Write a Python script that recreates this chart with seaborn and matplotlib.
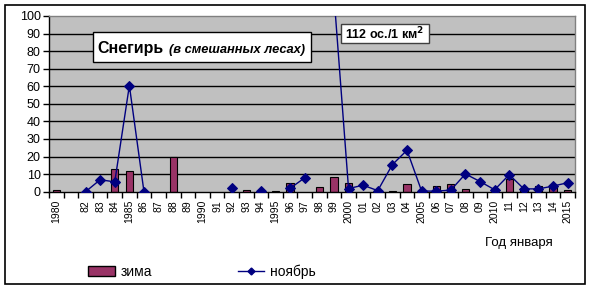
import numpy as np
import pandas as pd
import matplotlib
matplotlib.use("Agg")
import matplotlib.pyplot as plt
import seaborn as sns
from matplotlib.patches import Rectangle, Patch
from matplotlib.lines import Line2D

# ---- data ----
years = ['1980', '', '82', '83', '84', '1985', '86', '87', '88', '89', '1990', '91',
         '92', '93', '94', '1995', '96', '97', '98', '99', '2000', '01', '02', '03',
         '04', '2005', '06', '07', '08', '09', '2010', '11', '12', '13', '14', '2015']
zima = [1.1, np.nan, np.nan, np.nan, 12.8, 11.8, np.nan, np.nan, 19.8, np.nan, np.nan, np.nan,
        np.nan, 1.1, np.nan, 0.4, 5.0, np.nan, 2.4, 8.6, 5.0, np.nan, np.nan, 0.5,
        4.2, np.nan, 3.0, 4.2, 1.8, np.nan, 1.5, 7.0, 1.1, 3.0, 3.8, 1.1]
noyabr = [np.nan, np.nan, 0.0, 6.8, 5.6, 60.4, 0.0, np.nan, np.nan, np.nan, np.nan, np.nan,
          1.9, np.nan, 0.6, np.nan, 1.9, 7.9, np.nan, 112.0, 1.8, 3.7, 0.6, 15.4,
          23.6, 0.4, 0.3, 0.9, 10.1, 5.8, 1.1, 9.7, 1.6, 1.6, 3.2, 5.1]

W, H = 591, 290
def fx(px):
    return px / W
def fy(py):
    return 1 - py / H

plt.rcParams['font.family'] = ['Liberation Sans', 'DejaVu Sans']

n = len(years)
pos = np.arange(n)
df = pd.DataFrame({'pos': pos, 'label': years, 'zima': zima, 'noyabr': noyabr})

# segments for the line (gaps where values missing)
seg = np.cumsum(df['noyabr'].isna().astype(int))
dfl = df.assign(seg=seg).dropna(subset=['noyabr'])

fig = plt.figure(figsize=(W / 100, H / 100), dpi=100)
ax = fig.add_axes([fx(49), fy(191.7), fx(575) - fx(49), fy(16) - fy(191.7)])
ax.set_facecolor('#C0C0C0')

for v in range(10, 100, 10):
    ax.axhline(v, color='black', lw=1, zorder=0.5)

sns.barplot(data=df, x='pos', y='zima', native_scale=True, color='#993366',
            edgecolor='black', linewidth=0.8, width=0.5, errorbar=None,
            saturation=1, ax=ax, zorder=2)

sns.lineplot(data=dfl, x='pos', y='noyabr', units='seg', estimator=None,
             color='#000080', lw=1, marker='D', markersize=4.6,
             markeredgecolor='#000080', legend=False, ax=ax, zorder=3)

ax.set_xlim(-0.5, n - 0.5)
ax.set_ylim(0, 100)
ax.set_yticks(np.arange(0, 101, 10))
ax.tick_params(axis='y', labelsize=9, length=4, width=1, color='black', pad=2)
ax.set_xticks(pos)
ax.set_xticklabels(years, rotation=90, fontsize=7.5)
ax.tick_params(axis='x', which='major', length=0, pad=6)
ax.set_xticks(np.arange(-0.5, n, 1), minor=True)
ax.tick_params(axis='x', which='minor', length=4, width=1, color='black', direction='out')
ax.set_xlabel('')
ax.set_ylabel('')
for s in ['left', 'bottom']:
    ax.spines[s].set_color('black')
    ax.spines[s].set_linewidth(1)
for s in ['top', 'right']:
    ax.spines[s].set_color('#808080')
    ax.spines[s].set_linewidth(1)

# title box
fig.patches.append(Rectangle((fx(93), fy(62)), fx(311) - fx(93), fy(32) - fy(62),
                             transform=fig.transFigure, facecolor='white',
                             edgecolor='black', lw=1, zorder=5))
fig.text(fx(97), fy(52.5), 'Снегирь', fontsize=11.5, fontweight='bold',
         va='baseline', ha='left', zorder=6)
fig.text(fx(169), fy(52.5), '(в смешанных лесах)', fontsize=9.3, fontweight='bold',
         style='italic', va='baseline', ha='left', zorder=6)

# 112 box
fig.patches.append(Rectangle((fx(341), fy(43)), fx(429) - fx(341), fy(24) - fy(43),
                             transform=fig.transFigure, facecolor='white',
                             edgecolor='#404040', lw=1, zorder=5))
fig.text(fx(385), fy(34), r'112 ос./1 км$^{\mathbf{2}}$', fontsize=9,
         fontweight='bold', va='center', ha='center', zorder=6)

# x label
fig.text(fx(485), fy(243), 'Год января', fontsize=9.5, va='center', ha='left')

# legend
handles = [Patch(facecolor='#993366', edgecolor='black', lw=1),
           Line2D([0], [0], color='#000080', lw=1, marker='D', markersize=3.5)]
fig.legend(handles, ['зима', 'ноябрь'], loc='center', bbox_to_anchor=(fx(202), fy(272)),
           ncol=2, frameon=False, fontsize=10, handlelength=1.9, handleheight=0.7,
           handletextpad=0.4, columnspacing=6.2, borderpad=0)

# outer border
fig.patches.append(Rectangle((fx(5), fy(284)), fx(585) - fx(5), fy(5) - fy(284),
                             transform=fig.transFigure, fill=False,
                             edgecolor='black', lw=1.2, zorder=10))

fig.savefig('out.png', dpi=100)
